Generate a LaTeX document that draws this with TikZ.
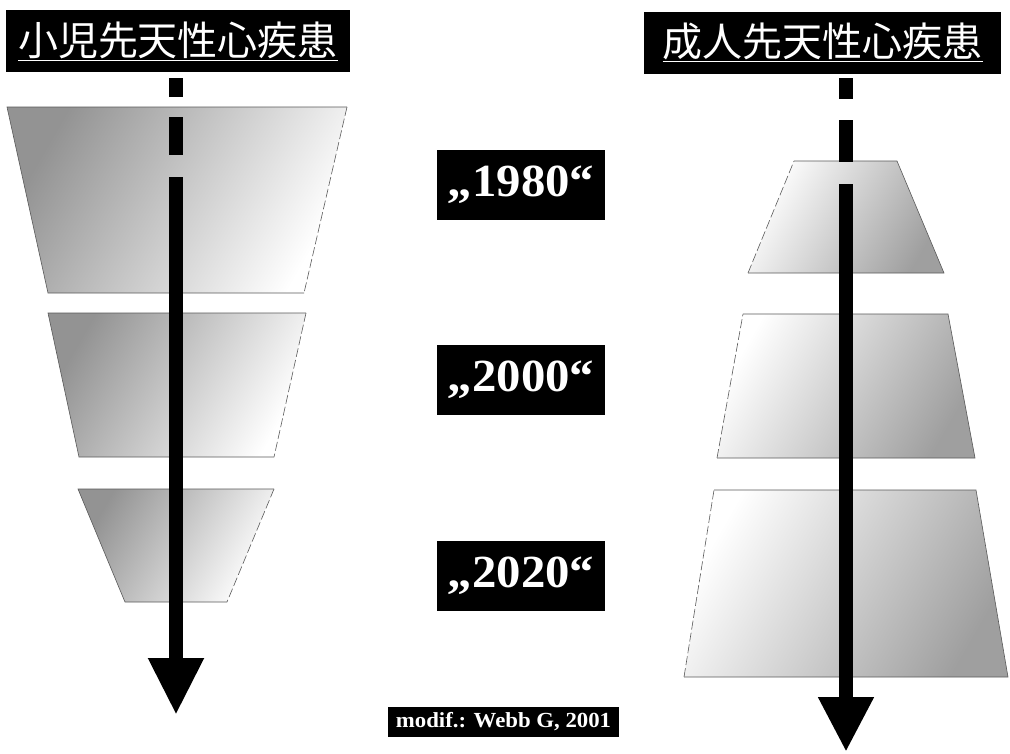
\documentclass[tikz,border=0pt]{standalone}
\usepackage{fontspec}
\setmainfont{Liberation Serif}
\newfontfamily\cjkfont{Noto Sans CJK JP}
\newfontfamily\yearfont[FakeStretch=1.06]{Liberation Serif}
\usetikzlibrary{arrows.meta}

\tikzset{
  titlebox/.style={fill=black, text=white, inner sep=0pt, minimum height=62pt,
    font=\cjkfont\fontsize{40}{42}\selectfont},
  yearbox/.style={fill=black, text=white, inner sep=0pt, minimum width=168pt, minimum height=70pt,
    font=\yearfont\bfseries\fontsize{46}{48}\selectfont},
  creditbox/.style={fill=black, text=white, inner sep=0pt, minimum width=231pt, minimum height=30pt,
    font=\yearfont\bfseries\fontsize{21.5}{23}\selectfont},
  layer/.style={draw=black!65, line width=0.6pt},
  gapedge/.style={draw=black!65, line width=0.6pt, dash pattern=on 9pt off 3pt},
  darkleft/.style={top color=gray!85, bottom color=white, shading angle=60},
  darkright/.style={top color=white, bottom color=gray!75, shading angle=60},
  bigarrow/.style={line width=14pt, line cap=butt, -{Triangle[length=57pt,width=52pt]}},
}

\begin{document}
\begin{tikzpicture}[x=1pt, y=-1pt]
\useasboundingbox (0,0) rectangle (1010,753);

% children: layers narrowing
\shade[darkleft] (7,107) -- (347,107) -- (304,293) -- (48,293) -- cycle;
\draw[layer] (304,293) -- (48,293) -- (7,107) -- (347,107);
\draw[gapedge] (347,107) -- (304,293);
\shade[darkleft] (48,313) -- (306,313) -- (274,457) -- (79,457) -- cycle;
\draw[layer] (274,457) -- (79,457) -- (48,313) -- (306,313);
\draw[gapedge] (306,313) -- (274,457);
\shade[darkleft] (78,489) -- (274,489) -- (227,602) -- (125,602) -- cycle;
\draw[layer] (227,602) -- (125,602) -- (78,489) -- (274,489);
\draw[gapedge] (274,489) -- (227,602);

% adults: layers widening
\shade[darkright] (794,161) -- (897,161) -- (944,273) -- (748,273) -- cycle;
\draw[layer] (794,161) -- (897,161) -- (944,273) -- (748,273);
\draw[gapedge] (748,273) -- (794,161);
\shade[darkright] (743,314) -- (948,314) -- (975,458) -- (717,458) -- cycle;
\draw[layer] (743,314) -- (948,314) -- (975,458) -- (717,458);
\draw[gapedge] (717,458) -- (743,314);
\shade[darkright] (714,490) -- (976,490) -- (1008,677) -- (684,677) -- cycle;
\draw[layer] (714,490) -- (976,490) -- (1008,677) -- (684,677);
\draw[gapedge] (684,677) -- (714,490);

% time arrows
\coordinate (kidstart) at (176,78);
\coordinate (kidend) at (176,715);
\coordinate (adultstart) at (846,78);
\coordinate (adultend) at (846,752);
\draw[bigarrow, dash pattern=on 19pt off 20pt on 38pt off 22pt on 2000pt off 1pt] (kidstart) -- (kidend);
\draw[bigarrow, -{Triangle[length=55pt,width=52pt]}, dash pattern=on 21pt off 21pt on 42pt off 22pt on 2000pt off 1pt] (adultstart) -- (adultend);

% titles
\node[titlebox, minimum width=344pt] (kids) at (178,41) {\underline{小児先天性心疾患}};
\node[titlebox, minimum width=357pt] (adults) at (822.5,42.5) {\underline{成人先天性心疾患}};

% years
\node[yearbox] (y1980) at (521,185) {„1980“};
\node[yearbox] (y2000) at (521,380) {„2000“};
\node[yearbox] (y2020) at (521,576) {„2020“};

\node[creditbox] (credit) at (503.5,722) {modif.: Webb G, 2001};

\end{tikzpicture}
\end{document}
